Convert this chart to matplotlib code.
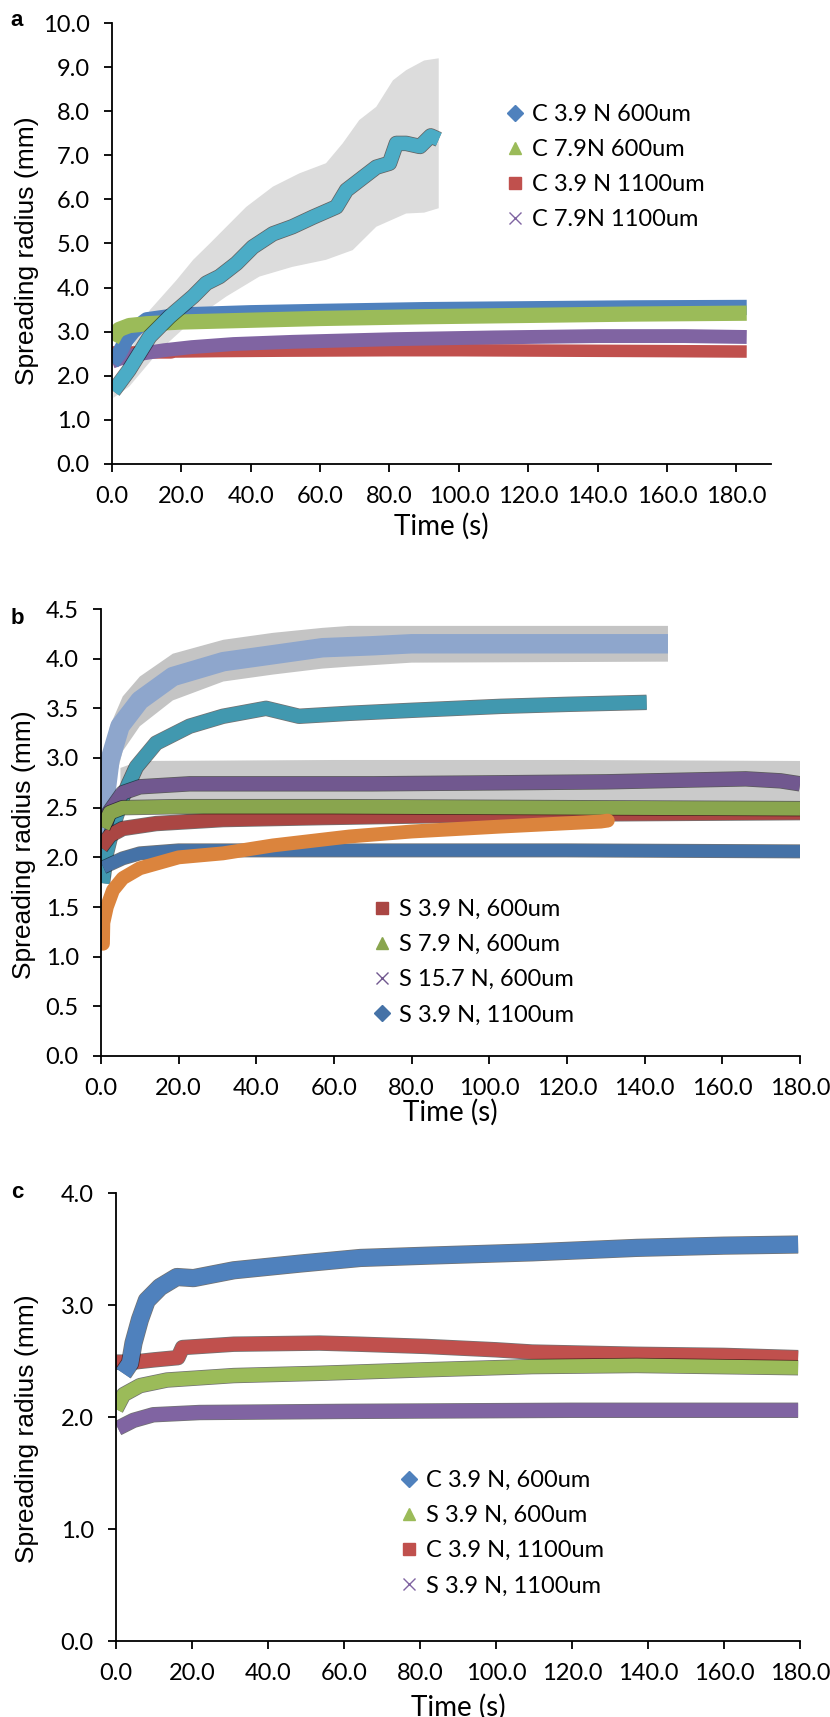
import numpy as np
import matplotlib.pyplot as plt
from matplotlib.lines import Line2D

# ---------------- panel a ----------------
a_t_blue = [0, 2, 4, 6, 8, 10, 20, 40, 60, 90, 120, 150, 183]
a_blue = [2.3, 2.5, 2.8, 3.0, 3.15, 3.27, 3.38, 3.43, 3.46, 3.5, 3.52, 3.54, 3.55]
a_t_green = [0, 1, 2, 5, 10, 20, 40, 60, 90, 120, 150, 183]
a_green = [2.8, 2.95, 3.05, 3.14, 3.18, 3.22, 3.26, 3.3, 3.34, 3.37, 3.4, 3.42]
a_t_red = [0, 5, 10, 17, 18, 30, 50, 80, 100, 130, 160, 183]
a_red = [2.53, 2.53, 2.53, 2.53, 2.55, 2.56, 2.57, 2.58, 2.58, 2.57, 2.56, 2.55]
a_t_purple = [0, 2, 5, 10, 15, 23, 35, 52, 81, 110, 140, 165, 183]
a_purple = [2.32, 2.38, 2.45, 2.52, 2.58, 2.65, 2.72, 2.77, 2.83, 2.87, 2.9, 2.9, 2.88]
a_t_cyan = [0.4, 4.9, 10.9, 16.6, 23.4, 27.2, 31, 35.9, 40.6, 46.4, 52, 58, 64.7,
            67.6, 71.4, 76.2, 80, 82, 84.8, 88.8, 91.9, 94.2]
a_cyan = [1.65, 2.13, 2.89, 3.34, 3.8, 4.1, 4.25, 4.55, 4.92, 5.22, 5.38, 5.6, 5.83,
          6.21, 6.44, 6.73, 6.82, 7.27, 7.27, 7.2, 7.44, 7.36]
a_t_err_hi = [0.4, 4.9, 10.9, 18.6, 23.4, 28.2, 33, 38.7, 46.4, 54, 61.7, 66.5, 71.3,
              76.2, 81, 84.8, 90, 94.2]
a_err_hi = [1.8, 2.5, 3.49, 4.17, 4.63, 5.0, 5.38, 5.83, 6.29, 6.59, 6.82, 7.27, 7.8,
            8.1, 8.7, 8.93, 9.15, 9.2]
a_t_err_lo = [0.4, 4.9, 13.8, 23.4, 33, 42.5, 52, 61.7, 69.4, 76.2, 84.8, 90, 94.2]
a_err_lo = [1.5, 1.75, 2.58, 3.27, 3.8, 4.25, 4.47, 4.63, 4.85, 5.38, 5.68, 5.7, 5.8]
a_labels = ["C 3.9 N 600um", "C 7.9N 600um", "C 3.9 N 1100um", "C 7.9N 1100um"]

# ---------------- panel b ----------------
b_t_red = [0, 2.3, 5.6, 14.2, 31.4, 57, 103, 140, 180]
b_red = [2.1, 2.22, 2.29, 2.34, 2.38, 2.4, 2.43, 2.44, 2.45]
b_t_green = [0.5, 2.3, 5.6, 20, 60, 120, 180]
b_green = [2.3, 2.45, 2.5, 2.51, 2.51, 2.5, 2.49]
b_t_purple = [1, 2, 5.6, 10, 22.8, 40, 70, 102, 130, 154, 166, 175, 180]
b_purple = [2.3, 2.45, 2.65, 2.71, 2.74, 2.74, 2.74, 2.75, 2.76, 2.78, 2.79, 2.77, 2.74]
b_t_purple_err = [5, 10, 60, 120, 180]
b_purple_hi = [2.9, 2.97, 2.98, 2.98, 2.97]
b_purple_lo = [2.45, 2.48, 2.48, 2.48, 2.48]
b_t_blue = [0.6, 5.6, 10, 20, 60, 120, 180]
b_blue = [1.9, 1.99, 2.04, 2.07, 2.07, 2.07, 2.06]
b_t_orange = [0.5, 0.6, 1.5, 3.1, 5.6, 10, 20, 31.4, 44.3, 64, 80, 103, 128.7, 130.5]
b_orange = [1.13, 1.34, 1.5, 1.67, 1.79, 1.89, 2.0, 2.04, 2.12, 2.21, 2.26, 2.31, 2.36, 2.37]
b_t_teal = [0.4, 1.4, 3.1, 5.6, 9.1, 14.2, 22.8, 31.4, 42.5, 51, 64, 80, 103, 120, 140.5]
b_teal = [1.74, 2.04, 2.31, 2.61, 2.91, 3.15, 3.32, 3.42, 3.5, 3.42, 3.45, 3.48, 3.52, 3.54, 3.56]
b_t_light = [0, 0.6, 2.3, 4.9, 10, 18.5, 31.5, 44.3, 57, 70, 80, 100, 120, 146]
b_light = [1.8, 2.45, 2.98, 3.32, 3.58, 3.82, 3.97, 4.04, 4.11, 4.13, 4.15, 4.15, 4.15, 4.15]
b_t_light_err = [0.6, 2.3, 5.6, 10, 18.5, 31.5, 44.3, 57, 64, 80, 146]
b_light_hi = [2.8, 3.32, 3.62, 3.82, 4.05, 4.19, 4.26, 4.31, 4.33, 4.33, 4.33]
b_light_lo = [2.1, 2.58, 3.07, 3.32, 3.58, 3.77, 3.84, 3.9, 3.92, 3.96, 3.97]
b_labels = ["S 3.9 N, 600um", "S 7.9 N, 600um", "S 15.7 N, 600um", "S 3.9 N, 1100um"]

# ---------------- panel c ----------------
c_t_blue = [1.9, 3.7, 4.6, 6.3, 8.1, 11.6, 16, 20.4, 31, 48.5, 64.3, 81.5, 109.5, 137, 160, 179.5]
c_blue = [2.39, 2.48, 2.66, 2.87, 3.04, 3.16, 3.25, 3.24, 3.31, 3.37, 3.42, 3.44, 3.47, 3.51, 3.53, 3.54]
c_t_red = [0, 4.6, 10, 16.3, 17.5, 31, 53.5, 64, 81.5, 100, 109.5, 137, 160, 179.5]
c_red = [2.49, 2.49, 2.51, 2.53, 2.62, 2.65, 2.66, 2.65, 2.63, 2.6, 2.58, 2.56, 2.55, 2.53]
c_t_green = [0, 2, 6.3, 13.4, 31, 53.5, 80, 109.5, 137, 179.5]
c_green = [2.07, 2.2, 2.28, 2.33, 2.37, 2.39, 2.42, 2.45, 2.46, 2.44]
c_t_purple = [0.5, 4.6, 9.8, 22, 60, 120, 179.5]
c_purple = [1.9, 1.97, 2.02, 2.04, 2.05, 2.06, 2.06]
c_labels = ["C 3.9 N, 600um", "S 3.9 N, 600um", "C 3.9 N, 1100um", "S 3.9 N, 1100um"]

TICK_FONT = "Lato"
LABEL_FONT = "Liberation Sans"

fig = plt.figure(figsize=(8.3, 17.17), dpi=100)
W, H = 830, 1717


def make_axes(left, top, right, bottom):
    return fig.add_axes([left / W, 1 - bottom / H, (right - left) / W, (bottom - top) / H])


def style(ax, xmax, ymax, ystep, ylab_x, ylab_y, xlab_y):
    ax.set_xlim(0, xmax)
    ax.set_ylim(0, ymax)
    ax.set_xticks(np.arange(0, 181, 20))
    ax.set_yticks(np.arange(0, ymax + 1e-6, ystep))
    ax.xaxis.set_major_formatter("{x:.1f}")
    ax.yaxis.set_major_formatter("{x:.1f}")
    for s in ["top", "right"]:
        ax.spines[s].set_visible(False)
    for s in ["left", "bottom"]:
        ax.spines[s].set_linewidth(1.3)
    ax.tick_params(direction="out", length=6, width=1.3, pad=10)
    for lab in ax.get_xticklabels() + ax.get_yticklabels():
        lab.set_fontfamily(TICK_FONT)
        lab.set_fontsize(17)
    ax.set_ylabel("Spreading radius (mm)", family=LABEL_FONT, fontsize=19)
    ax.yaxis.label.set_va("center")
    ax.yaxis.set_label_coords(ylab_x, ylab_y)
    ax.set_xlabel("Time (s)", family=TICK_FONT, fontsize=20)
    ax.xaxis.label.set_va("center")
    ax.xaxis.set_label_coords(0.5, xlab_y)


def band(ax, t, y, color, lw, edge=True, cap="butt"):
    if edge:
        ax.plot(t, y, color="black", lw=lw + 1.1, alpha=0.55, solid_capstyle=cap,
                solid_joinstyle="round")
    ax.plot(t, y, color=color, lw=lw, solid_capstyle=cap, solid_joinstyle="round")


def legend(ax, items, labels, x, top):
    handles = [Line2D([], [], ls="none", marker=m, color=c, markersize=ms)
               for m, c, ms in items]
    ax.legend(handles, labels, loc="upper left", bbox_to_anchor=(x / W, 1 - top / H),
              bbox_transform=fig.transFigure, frameon=False,
              prop={"family": TICK_FONT, "size": 17}, handlelength=0.8,
              handletextpad=0.3, labelspacing=0.6, borderpad=0, borderaxespad=0)


# colours
BLUE, RED, GREEN, PURPLE, AQUA = "#4F81BD", "#C0504D", "#9BBB59", "#8064A2", "#4BACC6"
B_BLUE, B_RED, B_GREEN, B_PURPLE = "#4572A7", "#AA4643", "#89A54E", "#71588F"
B_TEAL, B_ORANGE, B_LIGHT = "#4198AF", "#DB843D", "#8EA6CC"

# ---- a ----
ax = make_axes(112, 23, 771, 464)
ax.fill(a_t_err_hi + a_t_err_lo[::-1], a_err_hi + a_err_lo[::-1], color="#DCDCDC", lw=0)
band(ax, a_t_red, a_red, RED, 9, edge=False)
band(ax, a_t_purple, a_purple, PURPLE, 10, edge=False)
band(ax, a_t_blue, a_blue, BLUE, 11, edge=False)
band(ax, a_t_green, a_green, GREEN, 11, edge=False)
band(ax, a_t_cyan, a_cyan, AQUA, 10)
style(ax, 190, 10, 1, -0.129, 0.483, -0.141)
legend(ax, [("D", BLUE, 8), ("^", GREEN, 9), ("s", RED, 9), ("x", PURPLE, 9)],
       a_labels, 506, 104)

# ---- b ----
ax = make_axes(101, 609, 800, 1056)
ax.fill(b_t_light_err + b_t_light_err[::-1], b_light_hi + b_light_lo[::-1],
        color="#C4C4C4", lw=0)
ax.fill(b_t_purple_err + b_t_purple_err[::-1], b_purple_hi + b_purple_lo[::-1],
        color="#CACACA", lw=0)
band(ax, b_t_light, b_light, B_LIGHT, 14, edge=False)
band(ax, b_t_teal, b_teal, B_TEAL, 10)
band(ax, b_t_purple, b_purple, B_PURPLE, 10)
band(ax, b_t_red, b_red, B_RED, 10)
band(ax, b_t_green, b_green, B_GREEN, 10)
band(ax, b_t_blue, b_blue, B_BLUE, 9)
band(ax, b_t_orange, b_orange, B_ORANGE, 10, edge=False, cap="round")
style(ax, 180, 4.5, 0.5, -0.110, 0.472, -0.125)
legend(ax, [("s", B_RED, 9), ("^", B_GREEN, 9), ("x", B_PURPLE, 9), ("D", B_BLUE, 8)],
       b_labels, 373, 899)

# ---- c ----
ax = make_axes(116, 1193, 800, 1641)
band(ax, c_t_red, c_red, RED, 10)
band(ax, c_t_green, c_green, GREEN, 10)
band(ax, c_t_purple, c_purple, PURPLE, 10)
band(ax, c_t_blue, c_blue, BLUE, 12)
style(ax, 180, 4.0, 1.0, -0.130, 0.473, -0.147)
legend(ax, [("D", BLUE, 8), ("^", GREEN, 9), ("s", RED, 9), ("x", PURPLE, 9)],
       c_labels, 400, 1470)

for letter, y in [("a", 21), ("b", 619), ("c", 1193)]:
    fig.text(17 / W, 1 - y / H, letter, family=LABEL_FONT, fontsize=16,
             fontweight="bold", ha="center", va="center")

fig.savefig("out.png", dpi=100)
